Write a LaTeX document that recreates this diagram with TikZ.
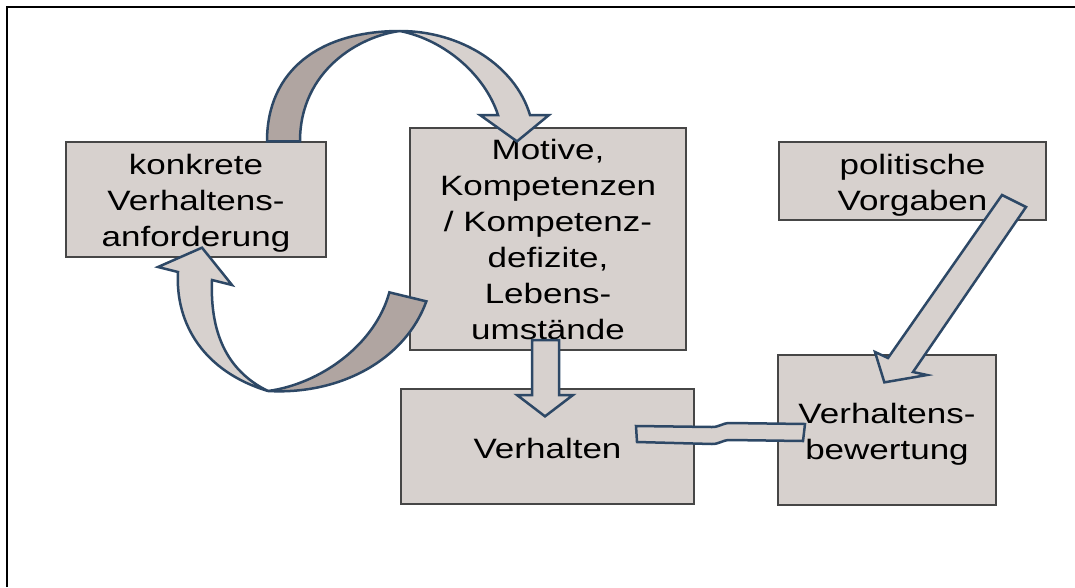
\documentclass[tikz,border=0pt]{standalone}
\usepackage{fontspec}
\setmainfont{Liberation Sans}[FakeStretch=1.25]
\definecolor{boxfill}{RGB}{215,209,206}
\definecolor{darkrib}{RGB}{176,165,161}
\definecolor{arrline}{RGB}{45,72,102}
\definecolor{boxline}{RGB}{70,70,70}
\begin{document}
\begin{tikzpicture}[x=1pt,y=-1pt,
  box/.style={draw=boxline, line width=1.3pt, fill=boxfill, align=center,
    font=\fontsize{28}{36}\selectfont, inner sep=0pt},
  txt/.style={align=center, font=\fontsize{28}{36}\selectfont, inner sep=0pt},
  lightrib/.style={fill=boxfill, draw=arrline, line width=2.5pt, line join=miter},
  darkpart/.style={fill=darkrib, draw=arrline, line width=2.5pt, line join=miter},
  frame/.style={draw=black, line width=2.5pt}]
\useasboundingbox (0,0) rectangle (1075,587);
\fill[white] (0,0) rectangle (1075,587);
\draw[frame] (7,587) -- (7,7) -- (1075,7);

% boxes
\node[box, minimum width=260pt, minimum height=115pt] (req) at (196,199.5) {};
\node[txt] (reqt) at ([yshift=-4pt]req.center) {konkrete\\Verhaltens-\\anforderung};
\node[box, minimum width=276pt, minimum height=222pt] (mot) at (548,239) {Motive,\\Kompetenzen\\/ Kompetenz-\\defizite,\\Lebens-\\umstände};
\node[box, minimum width=267pt, minimum height=78pt] (pol) at (912.5,181) {};
\node[txt] (polt) at ([yshift=-4pt]pol.center) {politische\\Vorgaben};
\node[box, minimum width=293pt, minimum height=115pt] (verh) at (547.5,446.5) {};
\node[txt] (verht) at ([yshift=-2pt]verh.center) {Verhalten};
\node[box, minimum width=218pt, minimum height=150pt] (bew) at (887,430) {};
\node[txt] (bewt) at ([yshift=-4pt]bew.center) {Verhaltens-\\bewertung};

% top curved arrow: req -> mot
\path ([shift={(71,0)}]req.north) coordinate (t1) ([shift={(104,0)}]req.north) coordinate (t2)
      ([shift={(-31,14)}]mot.north) coordinate (ttip);
\draw[darkpart] (t1) .. controls (267,70) and (320,31) .. (400,31)
   .. controls (360,36) and (300,70) .. (t2) -- cycle;
\draw[lightrib] (400,31) .. controls (460,31) and (515,65) .. (530,115)
   -- (549,115) -- (ttip) -- (480,115) -- (498,115)
   .. controls (485,75) and (445,40) .. (400,31) -- cycle;

% bottom curved arrow: mot -> req
\path ([shift={(-20,165)}]mot.north west) coordinate (b1)
      ([shift={(17,174)}]mot.north west) coordinate (b2)
      ([shift={(6,-10)}]req.south) coordinate (btip);
\draw[darkpart] (b1) -- (b2) .. controls (405,360) and (340,395) .. (268,391)
   .. controls (320,384) and (375,345) .. (b1) -- cycle;
\draw[lightrib] (268,391) .. controls (205,372) and (175,325) .. (178,272)
   -- (158,267) -- (btip) -- (232,285) -- (212,280)
   .. controls (210,330) and (225,370) .. (268,391) -- cycle;

% down arrow: mot -> verh
\path ([shift={(-2.5,28)}]verh.north) coordinate (dtip);
\draw[lightrib] (532,340) -- (559,340) -- (559,395) -- (573,395) -- (dtip)
   -- (517,395) -- (532,395) -- cycle;

% band: verh -- bew
\draw[lightrib] (636,426) -- (712,427) .. controls (720,427) and (722,423) .. (730,423)
   -- (805,424) -- (803,441) -- (730,440) .. controls (722,440) and (720,444) .. (712,444)
   -- (637,442) -- cycle;

% diagonal arrow: pol -> bew
\path ([shift={(107,28)}]bew.north west) coordinate (ptip);
\draw[lightrib] (1002,195) -- (1026,207) -- (913,372) -- (927,375) -- (ptip)
   -- (875,352) -- (888,358) -- cycle;
\end{tikzpicture}
\end{document}
